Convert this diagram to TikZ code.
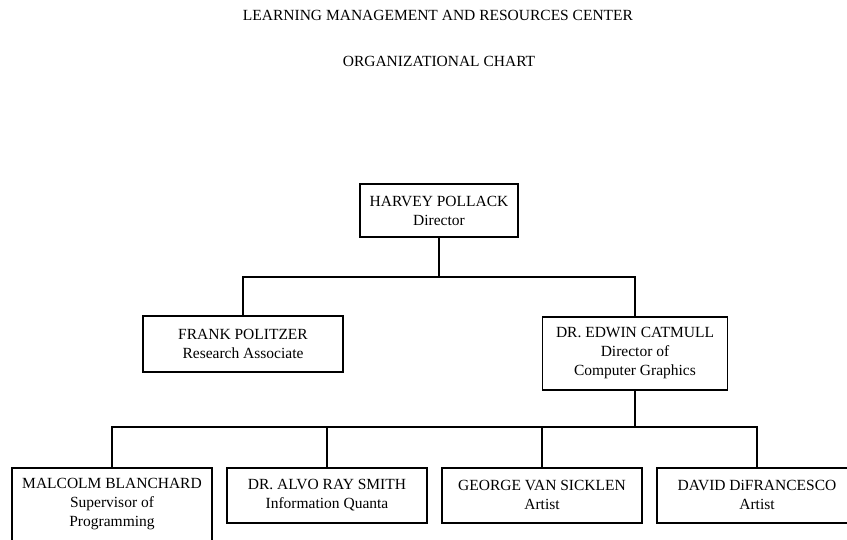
\documentclass[tikz,border=0pt]{standalone}
\usepackage{fontspec}
\setmainfont{Liberation Serif}
\usepackage{tikz}
\usetikzlibrary{positioning}
\newcommand{\chartfont}{\fontsize{15.5}{19}\selectfont}
\tikzset{
  person/.style={rectangle, draw, line width=1.6pt, minimum width=200pt, minimum height=55pt, inner sep=2pt, align=center, font=\chartfont},
  link/.style={line width=1.5pt},
  heading/.style={anchor=base, font=\chartfont},
}

\begin{document}
\begin{tikzpicture}[x=1pt, y=-1pt]
  \useasboundingbox (0,0) rectangle (847,539);
  \clip (0,0) rectangle (847,539);

  \node[heading] (center) at (438,20) {LEARNING MANAGEMENT AND RESOURCES CENTER};
  \node[heading] (chart) at (439,66) {ORGANIZATIONAL CHART};

  \node[person, minimum width=158pt, minimum height=53pt] (harvey) at (439,210.5) {HARVEY POLLACK\\Director};
  \node[person, minimum height=56pt] (frank) at (243,344) {FRANK POLITZER\\Research Associate};
  \node[person, minimum width=185pt, minimum height=73pt] (edwin) at (635,353.5) {DR. EDWIN CATMULL\\Director of\\Computer Graphics};

  \node[person, minimum height=73pt, anchor=north] (malcolm) at (112,467) {MALCOLM BLANCHARD\\Supervisor of\\Programming};
  \node[person, right=13.4pt of malcolm.north east, anchor=north west] (alvo) {DR. ALVO RAY SMITH\\Information Quanta};
  \node[person, right=13.4pt of alvo.north east, anchor=north west] (george) {GEORGE VAN SICKLEN\\Artist};
  \node[person, right=13.4pt of george.north east, anchor=north west] (david) {DAVID DiFRANCESCO\\Artist};

  \coordinate (split) at (439,277);
  \draw[link] (harvey.south) -- (split);
  \draw[link] (frank.north) |- (split) -| (edwin.north);

  \coordinate (split2) at (635,427);
  \draw[link] (edwin.south) -- (split2);
  \draw[link] (malcolm.north) |- (split2) -| (david.north);
  \draw[link] (alvo.north) -- (alvo.north |- split2);
  \draw[link] (george.north) -- (george.north |- split2);
\end{tikzpicture}
\end{document}
